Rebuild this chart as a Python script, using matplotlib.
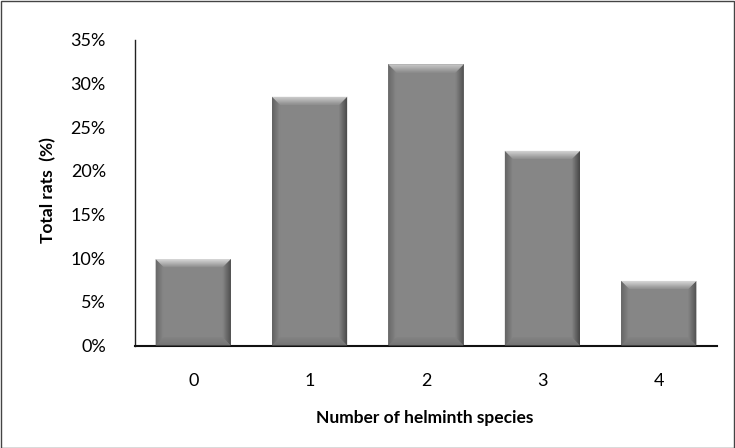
import matplotlib
matplotlib.use("Agg")
import matplotlib.pyplot as plt
from matplotlib.patches import Polygon, Rectangle
import numpy as np

categories = ["0", "1", "2", "3", "4"]
values = [9.9, 28.5, 32.2, 22.3, 7.4]
yticks = [0, 5, 10, 15, 20, 25, 30, 35]

plt.rcParams['font.family'] = ['Lato', 'DejaVu Sans']

W, H = 735, 448
fig = plt.figure(figsize=(W/100, H/100), dpi=100)
ax = fig.add_axes([135/W, 1-345.5/H, (717-135)/W, (345.5-40)/H])

x = np.arange(len(categories))
bw = 0.645
bars = ax.bar(x, values, width=bw, color='#868686', zorder=2)
ax.set_xlim(-0.5, len(categories)-0.5)
ax.set_ylim(0, 35)

# bevel effect, computed from bar geometry
dxp = (len(categories)) / (717-135)
dyp = 35 / (345.5-40)
b = 8
n = 8


def band(side, x0, x1, y0, y1, bx, by, cols):
    for i in range(n):
        t0 = i / n; t1 = (i+1) / n
        if side == 'top':
            ya = y1 - t0*by; yb = y1 - t1*by
            pts = [(x0 + t0*bx, ya), (x1 - t0*bx, ya), (x1 - t1*bx, yb), (x0 + t1*bx, yb)]
        elif side == 'bottom':
            ya = y0 + t0*by; yb = y0 + t1*by
            pts = [(x0 + t0*bx, ya), (x1 - t0*bx, ya), (x1 - t1*bx, yb), (x0 + t1*bx, yb)]
        elif side == 'left':
            xa = x0 + t0*bx; xb = x0 + t1*bx
            pts = [(xa, y0 + t0*by), (xa, y1 - t0*by), (xb, y1 - t1*by), (xb, y0 + t1*by)]
        else:
            xa = x1 - t0*bx; xb = x1 - t1*bx
            pts = [(xa, y0 + t0*by), (xa, y1 - t0*by), (xb, y1 - t1*by), (xb, y0 + t1*by)]
        ax.add_patch(Polygon(pts, closed=True, color=str(cols[i]), lw=0, zorder=3))


for rect in bars:
    x0 = rect.get_x(); x1 = x0 + rect.get_width(); y1 = rect.get_height(); y0 = 0
    bx, by = b*dxp, b*dyp
    band('left', x0, x1, y0, y1, bx, by, np.linspace(0.38, 0.52, n))
    band('right', x0, x1, y0, y1, bx, by, np.linspace(0.27, 0.50, n))
    band('bottom', x0, x1, y0, y1, bx, by, np.linspace(0.44, 0.50, n))
    band('top', x0, x1, y0, y1, bx, by, np.linspace(0.86, 0.58, n))

ax.set_xticks(x)
ax.set_xticklabels(categories, fontsize=13)
ax.set_yticks(yticks)
ax.set_yticklabels([f"{v}%" for v in yticks], fontsize=13)
ax.tick_params(axis='both', length=0)
ax.tick_params(axis='x', pad=20)
ax.tick_params(axis='y', pad=21)
for s in ['top', 'right']:
    ax.spines[s].set_visible(False)
ax.spines['left'].set_color('#222222')
ax.spines['bottom'].set_color('#111111')
ax.spines['bottom'].set_linewidth(1.5)
ax.spines['left'].set_linewidth(1.0)

fig.text(48/W, 1-190/H, "Total rats  (%)", rotation=90, fontsize=12.5, fontweight='bold', ha='center', va='center')
fig.text(425/W, 1-418/H, "Number of helminth species", fontsize=12.5, fontweight='bold', ha='center', va='center')

fig.add_artist(Rectangle((0.5/W, 0.5/H), 1-1.5/W, 1-1.5/H, transform=fig.transFigure, fill=False, ec='#444444', lw=1))

fig.savefig("out.png", dpi=100)
